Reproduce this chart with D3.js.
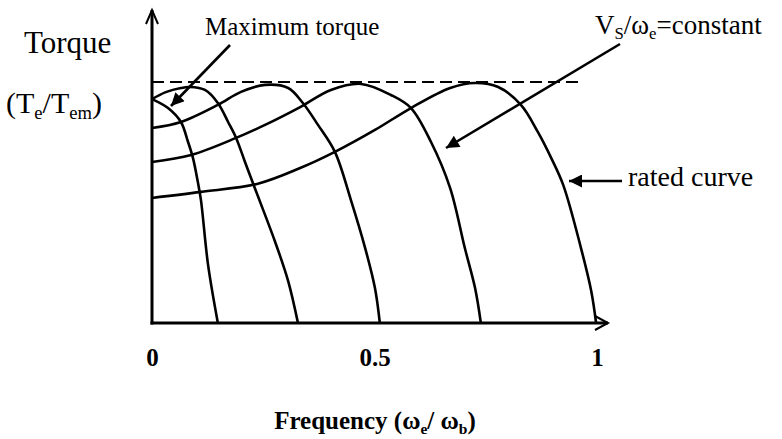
<!DOCTYPE html>
<html><head><meta charset="utf-8">
<script src="https://cdn.jsdelivr.net/npm/d3@7"></script>
<style>body{margin:0;background:#fff}svg{display:block}</style>
</head><body>
<svg id="c" width="782" height="439"></svg>
<script>
// frequency (ωe/ωb) vs normalized torque (Te/Tem)
const curve1 = [[0,0.929],[0.036,0.892],[0.065,0.834],[0.081,0.751],[0.092,0.685],[0.103,0.585],[0.110,0.510],[0.126,0.241],[0.148,0]];
const curve2 = [[0,0.929],[0.031,0.958],[0.065,0.975],[0.085,0.979],[0.119,0.967],[0.148,0.913],[0.171,0.834],[0.189,0.768],[0.209,0.668],[0.231,0.560],[0.276,0.340],[0.306,0.174],[0.328,0]];
const curve3 = [[0,0.809],[0.065,0.834],[0.148,0.905],[0.2,0.959],[0.254,0.988],[0.306,0.975],[0.339,0.913],[0.373,0.822],[0.411,0.710],[0.447,0.510],[0.479,0.311],[0.501,0.145],[0.512,0]];
const curve4 = [[0,0.668],[0.088,0.697],[0.189,0.768],[0.254,0.822],[0.333,0.896],[0.402,0.967],[0.470,0.992],[0.537,0.946],[0.582,0.892],[0.627,0.751],[0.670,0.560],[0.703,0.311],[0.726,0.145],[0.739,0]];
const curve5 = [[0,0.519],[0.110,0.544],[0.238,0.578],[0.333,0.643],[0.411,0.710],[0.501,0.801],[0.582,0.892],[0.670,0.975],[0.726,0.996],[0.778,0.979],[0.829,0.905],[0.867,0.793],[0.897,0.685],[0.924,0.573],[0.964,0.311],[0.987,0.133],[0.998,0]];
const curves = [curve1, curve2, curve3, curve4, curve5];
const xTicks = [0, 0.5, 1];
const maxTorque = 1;

const svg = d3.select("#c");
const x = d3.scaleLinear().domain([0,1]).range([152,597]);
const y = d3.scaleLinear().domain([0,1]).range([323,82]);
const serif = "'Liberation Serif','Times New Roman',serif";

// dashed max torque line
svg.append("line").attr("x1", x(0)).attr("x2", x(0.962)).attr("y1", y(maxTorque)).attr("y2", y(maxTorque))
  .attr("stroke","#000").attr("stroke-width",1.8).attr("stroke-dasharray","12,6");

// curves
const line = d3.line().x(d=>x(d[0])).y(d=>y(d[1])).curve(d3.curveCatmullRom.alpha(0.5));
svg.selectAll("path.curve").data(curves).enter().append("path").attr("class","curve")
  .attr("d", line).attr("fill","none").attr("stroke","#000").attr("stroke-width",2.6);

// axes lines with open arrowheads
const ax = svg.append("g").attr("stroke","#000").attr("stroke-width",3).attr("fill","none");
ax.append("line").attr("x1", x(0)).attr("y1", y(0)+1.5).attr("x2", x(0)).attr("y2", 10);
ax.append("path").attr("d", `M${x(0)-6},24 L${x(0)},10 L${x(0)+6},24`).attr("stroke-width",2);
ax.append("line").attr("x1", x(0)-1.5).attr("y1", y(0)).attr("x2", 608).attr("y2", y(0));
ax.append("path").attr("d", `M595,${y(0)-7} L608,${y(0)} L595,${y(0)+7}`).attr("stroke-width",2);

// tick labels through axis
const xAxis = d3.axisBottom(x).tickValues(xTicks).tickSize(0).tickPadding(0).tickFormat(d3.format("~g"));
const g = svg.append("g").attr("transform", `translate(0,${y(0)+43})`).call(xAxis);
g.select(".domain").remove();
g.selectAll("text").attr("font-family", serif).attr("font-size", 25).attr("font-weight","bold").attr("fill","#000").attr("dy",0);

// arrowhead marker
svg.append("defs").append("marker").attr("id","ah").attr("viewBox","0 0 10 10").attr("refX",10).attr("refY",5)
  .attr("markerWidth",6).attr("markerHeight",5).attr("orient","auto").attr("markerUnits","strokeWidth")
  .append("path").attr("d","M0,0 L10,5 L0,10 z").attr("fill","#000");
function arrow(x1,y1,x2,y2){
  svg.append("line").attr("x1",x1).attr("y1",y1).attr("x2",x2).attr("y2",y2)
    .attr("stroke","#000").attr("stroke-width",2.6).attr("marker-end","url(#ah)");
}
arrow(230,45,171,106);
arrow(620,44,446,148);
arrow(622,181,569,181);

// texts
function txt(xp, yp, size, parts, weight){
  const t = svg.append("text").attr("x",xp).attr("y",yp).attr("font-family",serif)
    .attr("font-size",size).attr("font-weight",weight||"normal").attr("fill","#000");
  const sh = Math.round(size*0.2);
  let down = false;
  parts.forEach(p=>{
    if (typeof p === "string") { t.append("tspan").text(p).attr("dy", down ? -sh : 0); down = false; }
    else { t.append("tspan").text(p.sub).attr("font-size", size*0.62).attr("dy", sh); down = true; }
  });
  return t;
}
txt(24, 53, 31, ["Torque"]);
txt(6, 113, 30, ["(T",{sub:"e"},"/T",{sub:"em"},")"]);
txt(205, 35, 25, ["Maximum torque"]);
txt(595, 34, 27, ["V",{sub:"S"},"/ω",{sub:"e"},"=constant"]);
txt(628, 186, 28, ["rated curve"]);
txt(375, 429, 25, ["Frequency (ω",{sub:"e"},"/ ω",{sub:"b"},")"], "bold").attr("text-anchor","middle");
</script>
</body></html>
